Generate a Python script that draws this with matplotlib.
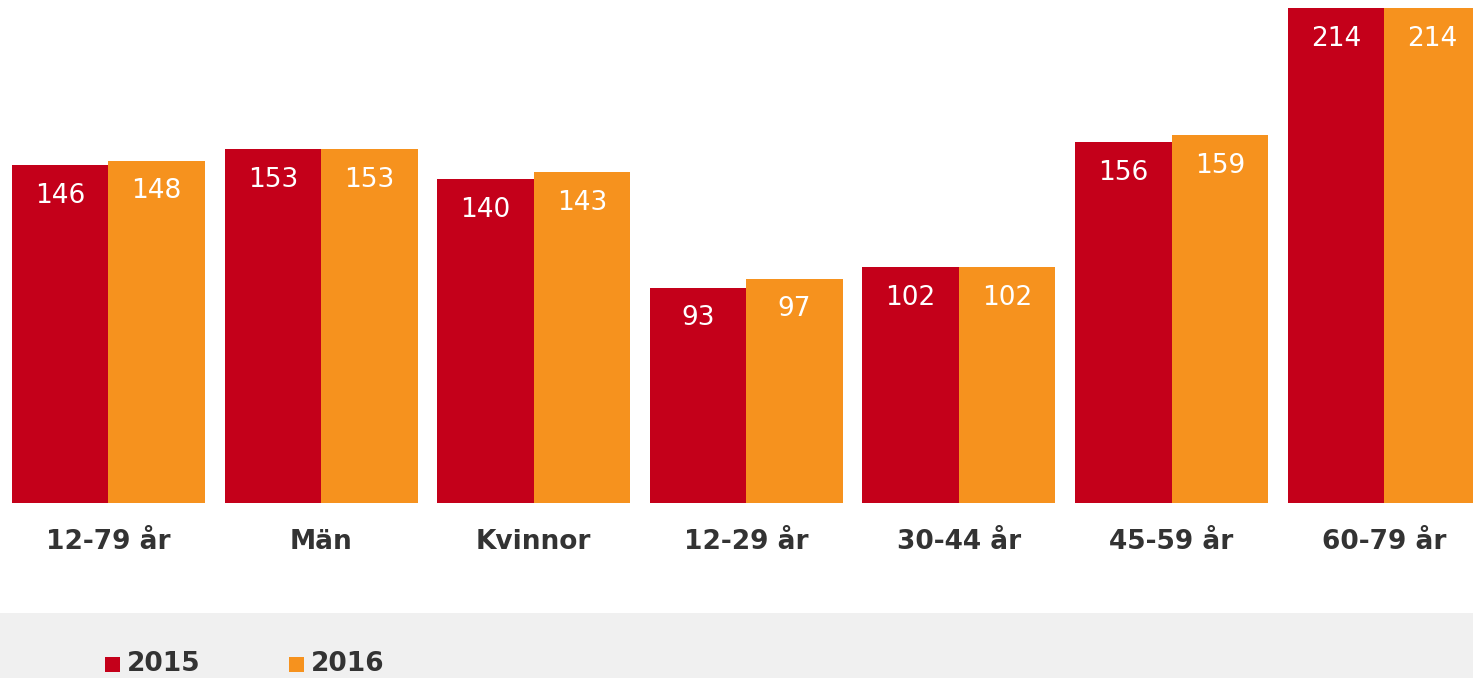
import numpy as np
import matplotlib.pyplot as plt
from matplotlib.patches import Rectangle

categories = ["12-79 år", "Män", "Kvinnor", "12-29 år", "30-44 år", "45-59 år", "60-79 år"]
v2015 = [146, 153, 140, 93, 102, 156, 214]
v2016 = [148, 153, 143, 97, 102, 159, 214]
series = ["2015", "2016"]
colors = ["#C4001A", "#F6921E"]

plt.rcParams['font.family'] = ['DejaVu Sans']

fig = plt.figure(figsize=(14.73, 6.78), dpi=100)
# gray band behind legend
fig.patches.append(Rectangle((0, 0), 1, 65/678, transform=fig.transFigure,
                             facecolor="#F0F0F0", edgecolor="none", zorder=0))

ax = fig.add_axes([0, 175/678, 1, 503/678])
x = np.arange(len(categories))
w = 0.454
b1 = ax.bar(x - w/2, v2015, w, color=colors[0])
b2 = ax.bar(x + w/2, v2016, w, color=colors[1])

for bars in (b1, b2):
    for r in bars:
        ax.annotate(str(int(r.get_height())), (r.get_x() + r.get_width()/2, r.get_height()),
                    xytext=(0, -22), textcoords="offset points",
                    ha="center", va="center", color="white", fontsize=19)

ax.set_xlim(-0.510, 6.418)
ax.set_ylim(0, 217.5)
ax.set_xticks(x)
ax.set_xticklabels(categories, fontsize=19, fontweight="bold", color="#333333")
ax.tick_params(axis="x", length=0, pad=19)
ax.set_yticks([])
for s in ax.spines.values():
    s.set_visible(False)
ax.patch.set_alpha(0)

# legend
for i, (lab, c) in enumerate(zip(series, colors)):
    x0 = (105 + i*184) / 1473
    fig.patches.append(Rectangle((x0, (678-672)/678), 15/1473, 15/678,
                                 transform=fig.transFigure, facecolor=c,
                                 edgecolor="none", zorder=2))
    fig.text(x0 + 22/1473, (678-664)/678, lab, fontsize=19, fontweight="bold",
             color="#333333", va="center", ha="left")

fig.savefig("out.png", dpi=100)
